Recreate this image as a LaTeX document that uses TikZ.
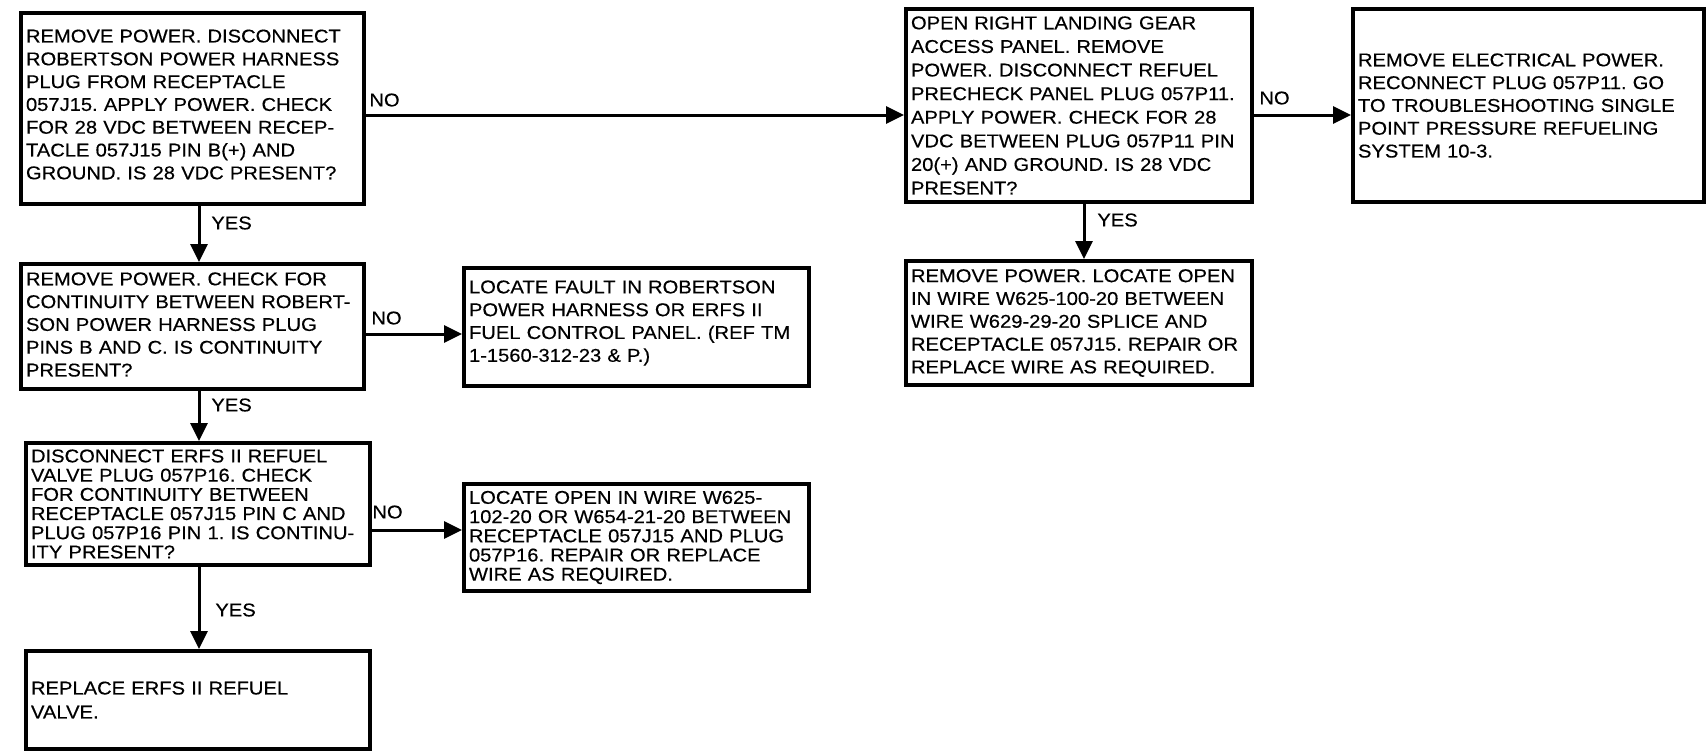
\documentclass[tikz,border=0pt]{standalone}
\usepackage{fontspec}
\newfontfamily\boxfont{Liberation Sans}[FakeStretch=1.09,FakeBold=0.4]
\usetikzlibrary{arrows.meta}
\tikzset{
  box/.style={draw, line width=2pt, align=left, anchor=north west,
    inner xsep=2.5pt, inner ysep=0pt,
    font=\boxfont\fontsize{9.25pt}{11.4pt}\selectfont},
  tight/.style={font=\boxfont\fontsize{9.25pt}{#1}\selectfont},
  raise text/.style={execute at end node={\par\vspace{#1}}},
  lbl/.style={anchor=west, inner sep=0pt,
    font=\boxfont\fontsize{9.25pt}{11.4pt}\selectfont},
  arr/.style={line width=1.5pt, -{Triangle[length=9pt,width=8.5pt]}}
}
\begin{document}
\frenchspacing
\begin{tikzpicture}[x=0.5pt,y=-0.5pt]
\useasboundingbox[fill=white] (0,0) rectangle (1708,751);

\node[box, text width=166.5pt, minimum height=95.5pt, raise text=4pt] (A) at (19,11)
 {REMOVE POWER. DISCONNECT\\ROBERTSON POWER HARNESS\\PLUG FROM RECEPTACLE\\057J15. APPLY POWER. CHECK\\FOR 28 VDC BETWEEN RECEP-\\TACLE 057J15 PIN B(+) AND\\GROUND. IS 28 VDC PRESENT?};

\node[box, text width=166.5pt, minimum height=62.5pt, raise text=2pt] (B) at (19,262)
 {REMOVE POWER. CHECK FOR\\CONTINUITY BETWEEN ROBERT-\\SON POWER HARNESS PLUG\\PINS B AND C. IS CONTINUITY\\PRESENT?};

\node[box, text width=167.5pt, minimum height=59pt, raise text=4pt] (C) at (462,266)
 {LOCATE FAULT IN ROBERTSON\\POWER HARNESS OR ERFS II\\FUEL CONTROL PANEL. (REF TM\\1-1560-312-23 \& P.)};

\node[box, tight=9.6pt, text width=167pt, minimum height=61pt] (H) at (24,441)
 {DISCONNECT ERFS II REFUEL\\VALVE PLUG 057P16. CHECK\\FOR CONTINUITY BETWEEN\\RECEPTACLE 057J15 PIN C AND\\PLUG 057P16 PIN 1. IS CONTINU-\\ITY PRESENT?};

\node[box, tight=9.6pt, text width=167.5pt, minimum height=53.5pt] (I) at (462,482)
 {LOCATE OPEN IN WIRE W625-\\102-20 OR W654-21-20 BETWEEN\\RECEPTACLE 057J15 AND PLUG\\057P16. REPAIR OR REPLACE\\WIRE AS REQUIRED.};

\node[box, tight=12pt, text width=167pt, minimum height=49pt] (G) at (24,649)
 {REPLACE ERFS II REFUEL\\VALVE.};

\node[box, tight=11.8pt, text width=168pt, minimum height=96.5pt] (D) at (904,7)
 {OPEN RIGHT LANDING GEAR\\ACCESS PANEL. REMOVE\\POWER. DISCONNECT REFUEL\\PRECHECK PANEL PLUG 057P11.\\APPLY POWER. CHECK FOR 28\\VDC BETWEEN PLUG 057P11 PIN\\20(+) AND GROUND. IS 28 VDC\\PRESENT?};

\node[box, text width=170.5pt, minimum height=96.5pt] (E) at (1351,7)
 {REMOVE ELECTRICAL POWER.\\RECONNECT PLUG 057P11. GO\\TO TROUBLESHOOTING SINGLE\\POINT PRESSURE REFUELING\\SYSTEM 10-3.};

\node[box, text width=168pt, minimum height=62pt] (F) at (904,259)
 {REMOVE POWER. LOCATE OPEN\\IN WIRE W625-100-20 BETWEEN\\WIRE W629-29-20 SPLICE AND\\RECEPTACLE 057J15. REPAIR OR\\REPLACE WIRE AS REQUIRED.};

% connectors
\draw[arr] (A.east |- 0,115) -- (D.west |- 0,115);
\draw[arr] (D.east |- 0,115) -- (E.west |- 0,115);
\draw[arr] (A.south -| 199,0) -- (B.north -| 199,0);
\draw[arr] (B.east |- 0,334) -- (C.west |- 0,334);
\draw[arr] (B.south -| 199,0) -- (H.north -| 199,0);
\draw[arr] (H.east |- 0,530) -- (I.west |- 0,530);
\draw[arr] (H.south -| 199,0) -- (G.north -| 199,0);
\draw[arr] (D.south -| 1084,0) -- (F.north -| 1084,0);

% labels
\node[lbl] (n1) at (369,100) {NO};
\node[lbl] (n2) at (1259,98) {NO};
\node[lbl] (n3) at (371,318) {NO};
\node[lbl] (n4) at (372,512) {NO};
\node[lbl] (y1) at (211,223) {YES};
\node[lbl] (y2) at (211,405) {YES};
\node[lbl] (y3) at (215,610) {YES};
\node[lbl] (y4) at (1097,220) {YES};
\end{tikzpicture}
\end{document}
